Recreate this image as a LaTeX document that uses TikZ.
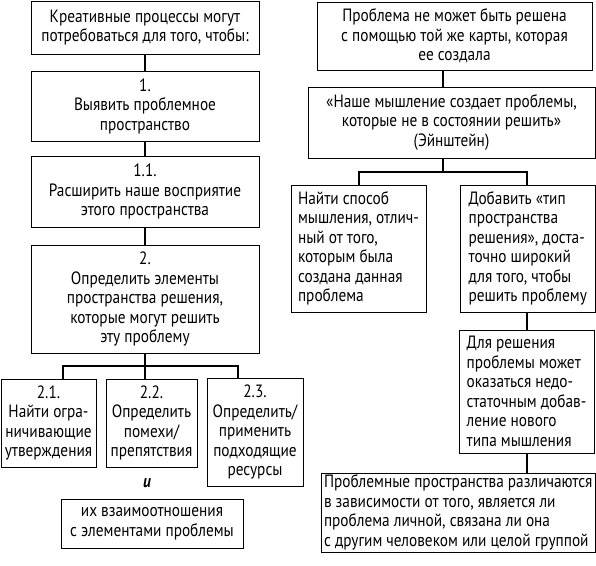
\documentclass[tikz,border=0pt]{standalone}
\usepackage{fontspec}
\setmainfont{PT Sans}[FakeStretch=0.86]
\newcommand\fsz{\fontsize{17.8}{19.5}\selectfont}
\begin{document}
\begin{tikzpicture}[x=1pt,y=-1pt,
  box/.style={draw, line width=0.9pt, inner sep=0pt, font=\fsz},
  cb/.style 2 args={box, align=center, minimum width=#1, minimum height=#2},
  lb/.style 2 args={box, align=left, minimum width=#1, minimum height=#2},
  link/.style={line width=2.2pt}]
\useasboundingbox (0,0) rectangle (596,565);
% left column
\node[cb={228pt}{53pt}] (A) at (145,27.5) {Креативные процессы могут\\потребоваться для того, чтобы:};
\node[cb={228pt}{70pt}] (B) at (145,106) {1.\\Выявить проблемное\\пространство};
\node[cb={228pt}{71pt}] (C) at (145,191.5) {1.1.\\Расширить наше восприятие\\этого пространства};
\node[cb={228pt}{108pt}] (D) at (145,299) {2.\\Определить элементы\\пространства решения,\\которые могут решить\\эту проблему};
\node[cb={95pt}{88pt}] (B21) at (48.5,423) {2.1.\\Найти огра-\\ничивающие\\утверждения};
\node[cb={91pt}{88pt}] (B22) at (151.5,423) {2.2.\\Определить\\помехи/\\препятствия};
\node[cb={96pt}{108pt}] (B23) at (255,432) {2.3.\\Определить/\\применить\\подходящие\\ресурсы};
\node[font=\fsz\bfseries\itshape, inner sep=0pt] (I) at (147,483) {и};
\node[cb={182pt}{49pt}] (E) at (152,523.5) {их взаимоотношения\\с элементами проблемы};
% right column
\node[cb={275pt}{68pt}] (R1) at (454.5,36) {Проблема не может быть решена\\с помощью той же карты, которая\\ее создала};
\node[cb={287pt}{71pt}] (R2) at (451.5,122.5) {«Наше мышление создает проблемы,\\которые не в состоянии решить»\\(Эйнштейн)};
\node[lb={135pt}{127pt}] (R3) at (358.5,248.5) {Найти способ\\мышления, отлич-\\ный от того,\\которым была\\создана данная\\проблема};
\node[lb={135.5pt}{127pt}] (R4) at (527.75,248.5) {Добавить «тип\\пространства\\решения», доста-\\точно широкий\\для того, чтобы\\решить проблему};
\node[lb={135pt}{123pt}] (R5) at (526.5,391.5) {Для решения\\проблемы может\\оказаться недо-\\статочным добав-\\ление нового\\типа мышления};
\node[lb={274.5pt}{79pt}] (R6) at (458.25,512.5) {Проблемные пространства различаются\\в зависимости от того, является ли\\проблема личной, связана ли она\\с другим человеком или целой группой};
% connectors left
\draw[link] (A) -- (B);
\draw[link] (B) -- (C);
\draw[link] (C) -- (D);
\coordinate (jL) at (145,366);
\coordinate (b1) at (63,366);
\coordinate (b3) at (238,366);
\draw[link] (D.south) -- (jL);
\draw[link] (b1 |- B21.north) -- (b1) -- (b3) -- (b3 |- B23.north);
\draw[link] (jL) -- (jL |- B22.north);
% connectors right
\coordinate (jR) at (443,172);
\coordinate (r3) at (359,172);
\coordinate (r4) at (527,172);
\draw[link] (R1.south -| jR) -- (R2.north -| jR);
\draw[link] (R2.south -| jR) -- (jR);
\draw[link] (r3 |- R3.north) -- (r3) -- (r4) -- (r4 |- R4.north);
\draw[link] (R4.south -| r4) -- (R5.north -| r4);
\draw[link] (R5.south -| r4) -- (R6.north -| r4);
\end{tikzpicture}
\end{document}
